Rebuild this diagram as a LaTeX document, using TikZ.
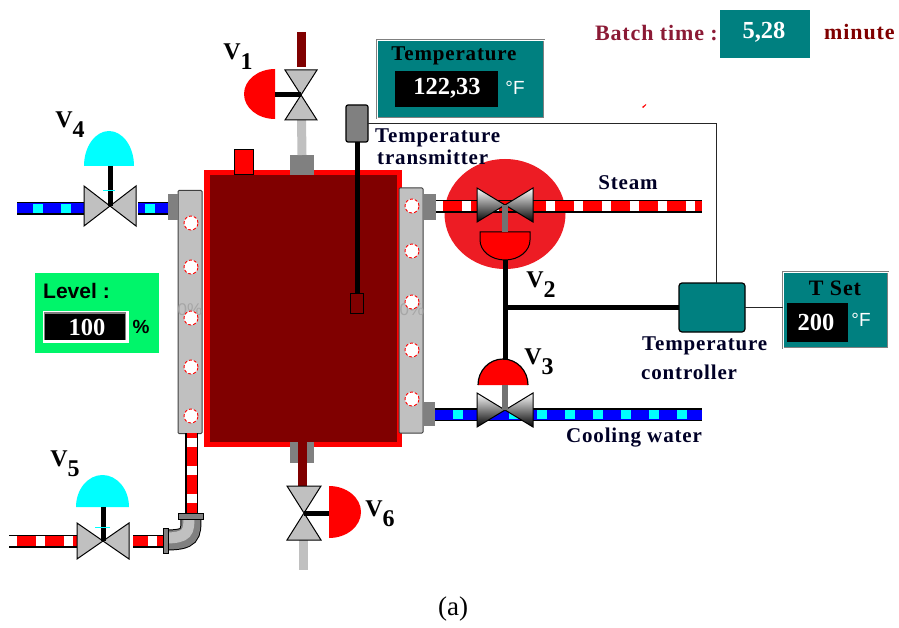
\documentclass[tikz,border=0pt]{standalone}
\usepackage{fontspec}
\setmainfont{Liberation Serif}
\setsansfont{Liberation Sans}
\usetikzlibrary{positioning,shapes.geometric}
\definecolor{tealbox}{HTML}{008080}
\definecolor{maroonbox}{HTML}{800000}
\definecolor{steel}{HTML}{C0C0C0}
\definecolor{nozzlegray}{HTML}{808080}
\definecolor{levelgreen}{HTML}{00F56A}
\definecolor{alarmred}{HTML}{ED1C24}
\definecolor{batchred}{HTML}{8B1A35}
\definecolor{aqua}{HTML}{00FFFF}
\definecolor{pureblue}{HTML}{0000FF}
\definecolor{purered}{HTML}{FF0000}
\tikzset{
block/.style={rectangle,inner sep=0,outer sep=0,minimum width=#1},
jacket/.style={block=24,minimum height=243,fill=steel,draw=black!75,line width=1,rounded corners=1},
nozzle/.style={fill=nozzlegray},
panel/.style={rectangle,inner sep=0,fill=tealbox,draw=nozzlegray,double=white,double distance=0.8,line width=1},
readout/.style={rectangle,inner sep=0,fill=black},
caption/.style={inner sep=0,font=\fontsize{21}{21}\selectfont\bfseries\addfontfeature{LetterSpace=4},text=black!85!blue},
bigcaption/.style={caption,font=\fontsize{22}{22}\selectfont\bfseries\addfontfeature{LetterSpace=4}},
valvetag/.style={inner sep=0,font=\fontsize{24}{24}\selectfont\bfseries,text=black},
value/.style={inner sep=0,font=\fontsize{24.5}{24.5}\selectfont\bfseries,text=white},
unit/.style={inner sep=0,font=\fontsize{19}{19}\selectfont\sffamily,text=white},
valvebody/.style={fill=steel,draw=black,line width=1},
shinybody/.style={top color=white,middle color=steel!55!white,bottom color=black,draw=black,line width=1},
stem/.style={line width=5,draw=black},
greystem/.style={line width=6,draw=black!55},
signal/.style={line width=1.6,draw=black!85},
hotpipe/.style={line width=10,draw=purered,preaction={draw=black,line width=13},
  postaction={draw=white,dash pattern=on 9 off 19,dash phase=#1}},
coldpipe/.style={line width=10,draw=pureblue,preaction={draw=black,line width=13},
  postaction={draw=aqua,line width=8.5,dash pattern=on 10 off 18,dash phase=#1}},
hole/.style={circle,inner sep=0,minimum size=14,fill=white,draw=purered,densely dashed,line width=0.9}
}
% bow-tie body lying on its side, and standing up
\newcommand{\bowtieflat}[4]{\path[#4] (#1) -- ++(-#2,-#3) -- ++(0,2*#3) -- cycle (#1) -- ++(#2,-#3) -- ++(0,2*#3) -- cycle;}
\newcommand{\bowtieup}[4]{\path[#4] (#1) -- ++(-#2,-#3) -- ++(2*#2,0) -- cycle (#1) -- ++(-#2,#3) -- ++(2*#2,0) -- cycle;}
\newcommand{\tagged}[1]{V\raisebox{-0.42em}{#1}}
\begin{document}
\begin{tikzpicture}[x=1pt,y=-1pt]
\useasboundingbox (0,0) rectangle (899,628);

% anchors of the valves and pipes
\coordinate (v1) at (301,95);
\coordinate (v2) at (505,205);
\coordinate (v3) at (505,410);
\coordinate (v4) at (110,206);
\coordinate (v5) at (103,541);
\coordinate (v6) at (304,513);
\coordinate (steamEnd) at (702,206.5);
\coordinate (coolEnd) at (702,414.5);
\coordinate (v4Start) at (17,208.5);
\coordinate (v5Start) at (9,541);
\coordinate (feedTop) at (301.5,32);
\coordinate (drainEnd) at (303.5,570);

% alarm disc
\node[ellipse,inner sep=0,minimum width=121,minimum height=110,fill=alarmred] (alarm) at (505,214) {};

% vessel and jackets
\node[block=192.5,minimum height=271.5,fill=maroonbox,draw=purered,line width=5.5] (vessel) at (303,308.5) {};
\node[block=19,minimum height=25,fill=purered,draw=black,line width=1] (vent) at (243.5,162.5) {};
\node[block=24,minimum height=20,nozzle] (topNozzle) at (302,165) {};
\node[jacket] (jacketL) at (190,312) {};
\node[jacket,minimum height=245] (jacketR) at (411,310.5) {};
\node[text=black!35,font=\fontsize{17}{17}\sffamily,inner sep=0] (pctL) at (190,310) {0\%};
\node[text=black!35,font=\fontsize{17}{17}\sffamily,inner sep=0] (pctR) at (412,310) {0\%};
\foreach \y in {223,267,318,367,416}
  \node[hole] (holeL\y) at (191,\y) {};
\foreach \y in {206,251,302,350,399}
  \node[hole] (holeR\y) at (412,\y) {};

% nozzles on the jackets
\node[block=10,minimum height=26,nozzle] (nozzleV4) at (173,207) {};
\node[block=12,minimum height=26,nozzle] (nozzleSteam) at (430,207) {};
\node[block=12,minimum height=24,nozzle] (nozzleCool) at (429,414) {};
\node[block=8,minimum height=21,nozzle] (drainL) at (293.5,452.5) {};
\node[block=8,minimum height=21,nozzle] (drainR) at (310,452.5) {};

% pipes
\draw[line width=9,draw=maroonbox] (feedTop) -- (301.5,67);
\draw[line width=9,draw=steel] (301.5,119) -- (topNozzle.north);
\draw[line width=9,draw=maroonbox] (302,442) -- (302,487);
\draw[line width=9,draw=steel] (303.5,540) -- (drainEnd);
\draw[hotpipe=2.5] (nozzleSteam.east |- steamEnd) -- (steamEnd);
\draw[coldpipe=10] (nozzleCool.east |- coolEnd) -- (coolEnd);
\draw[coldpipe=12] (v4Start) -- (84,208.5);
\draw[coldpipe=21] (138,208.5) -- (nozzleV4.west |- v4Start);
\draw[hotpipe=1.5] (v5Start) -- (77,541);
\draw[hotpipe=13.5] (133,541) -- (163,541);
\draw[hotpipe=23.5] (191.5,433) -- (191.5,513);

% elbow
\draw[line width=21,draw=black,line cap=butt] (165,540) .. controls (191,540) and (191,535) .. (191,517);
\draw[line width=19,draw=nozzlegray] (165,540) .. controls (191,540) and (191,535) .. (191,517);
\draw[line width=11,draw=steel] (165,538) .. controls (188,538) and (189,532) .. (189,517);
\node[block=5,minimum height=25,fill=nozzlegray,draw=black,line width=1] (elbowFlangeA) at (165.5,540.5) {};
\node[block=25,minimum height=6,fill=nozzlegray,draw=black,line width=1] (elbowFlangeB) at (190.5,516) {};

% valve bodies
\bowtieup{v1}{16}{25}{valvebody}
\bowtieflat{v4}{26}{20}{valvebody}
\bowtieflat{v5}{26}{18}{valvebody}
\bowtieup{v6}{17}{27}{valvebody}
\bowtieflat{v2}{28}{17}{shinybody}
\bowtieflat{v3}{28}{17}{shinybody}

% actuators
\coordinate (v1act) at (275,95);
\coordinate (v2act) at (505,232);
\coordinate (v3act) at (505,385);
\coordinate (v3top) at (505,360);
\coordinate (v4act) at (110,166);
\coordinate (v5act) at (103,507);
\coordinate (v6act) at (329,513);
\fill[purered] (275,119) arc[start angle=90,end angle=270,x radius=31,y radius=25] -- cycle;
\fill[purered] (329,538) arc[start angle=90,end angle=-90,x radius=32,y radius=26] -- cycle;
\fill[aqua] (84,166) arc[start angle=180,end angle=360,x radius=25,y radius=35] -- cycle;
\fill[aqua] (76,507) arc[start angle=180,end angle=360,x radius=26.5,y radius=32] -- cycle;
\path[fill=purered,draw=black,line width=1] (480,232) -- (530,232) -- (530,240) arc[start angle=0,end angle=180,x radius=25,y radius=20] -- cycle;
\path[fill=purered,draw=none] (478,385) arc[start angle=180,end angle=360,x radius=25,y radius=26] -- cycle;
\draw[line width=1.2,draw=black] (478,385) arc[start angle=180,end angle=360,x radius=25,y radius=26];
\draw[stem] (v1act) -- (v1);
\draw[stem] (v6act) -- (v6);
\draw[stem] (v4act) -- (v4);
\draw[stem] (v5act) -- (v5);
\draw[greystem] (v2) -- (v2act);
\draw[greystem] (v3act) -- (v3);
\fill[aqua] (103,190.5) rectangle (115,191.5);
\fill[aqua] (95,527) rectangle (110,528);

% transmitter
\node[block=22,minimum height=37,fill=nozzlegray,draw=black,line width=1.2,rounded corners=2] (transmitter) at (357,123.5) {};
\node[block=13,minimum height=20,fill=maroonbox,draw=black,line width=1] (probe) at (356.5,303) {};
\draw[stem] (transmitter.south) -- (transmitter.south |- probe.north);

% controller
\node[block=66,minimum height=49,fill=tealbox,draw=black,line width=1.2,rounded corners=3] (controller) at (712,307.5) {};
\node[panel,minimum width=105,minimum height=76] (tSet) at (835.5,310) {};
\draw[signal] (transmitter.east) -| ([xshift=4.5]controller.north);
\draw[stem] (505,260) -- (v3top);
\draw[stem] (controller.west) -- (controller.west -| v3top);
\draw[signal] (controller.east) -- (controller.east -| tSet.west);

% readouts
\node[readout,minimum width=61,minimum height=39] (tSetBox) at (817.5,322.5) {};
\node[bigcaption,text=black] (tSetText) at (835,288) {T Set};
\node[value] (tSetValue) at (816,322) {200};
\node[unit] (tSetUnit) at (861,320) {°F};

\node[panel,minimum width=167,minimum height=78] (tempPanel) at (460.5,79) {};
\node[readout,minimum width=103,minimum height=36] (tempBox) at (446.5,89) {};
\node[caption,text=black] (tempText) at (454,56) {Temperature};
\node[value] (tempValue) at (447,88) {122,33};
\node[unit] (tempUnit) at (515,88) {°F};

\node[rectangle,inner sep=0,minimum width=124,minimum height=80,fill=levelgreen] (levelPanel) at (97,313) {};
\node[inner sep=0,font=\fontsize{21}{21}\selectfont\sffamily\bfseries] (levelText) at (76.5,291) {Level :};
\node[rectangle,inner sep=0,minimum width=86,minimum height=32,fill=white] (levelFrame) at (85.5,327) {};
\node[readout,minimum width=82,minimum height=28,fill=nozzlegray] (levelShade) at (85,326) {};
\node[readout,minimum width=80,minimum height=26] (levelBox) at (85,326.5) {};
\node[value] (levelValue) at (87,327) {100};
\node[inner sep=0,font=\fontsize{19}{19}\selectfont\sffamily\bfseries] (levelUnit) at (141,327) {\%};

\node[rectangle,inner sep=0,minimum width=90,minimum height=48,fill=tealbox] (batchBox) at (765,34) {};
\node[value] (batchValue) at (764,32) {5,28};
\node[bigcaption,text=batchred,anchor=east] (batchText) at (718,33) {Batch time :};
\node[bigcaption,text=maroonbox,anchor=west] (batchUnit) at (824,32) {minute};
\fill[purered] (642,107) -- (646,104) -- (646,105) -- (643,108) -- cycle;

% labels
\node[caption,anchor=west] (transmitterText) at (375,138) {Temperature};
\node[caption,anchor=west] (transmitterText2) at (377,157) {transmitter};
\node[caption] (steamText) at (628,183) {Steam};
\node[caption,anchor=west] (controllerText) at (642,346) {Temperature};
\node[caption,anchor=west] (controllerText2) at (641,372) {controller};
\node[caption] (coolingText) at (634,438) {Cooling water};
\node[valvetag] (v1Text) at (238,57) {\tagged{1}};
\node[valvetag] (v2Text) at (541,285) {\tagged{2}};
\node[valvetag] (v3Text) at (539,362) {\tagged{3}};
\node[valvetag] (v4Text) at (70,125) {\tagged{4}};
\node[valvetag] (v5Text) at (65,464) {\tagged{5}};
\node[valvetag] (v6Text) at (380,514) {\tagged{6}};
\node[inner sep=0,font=\fontsize{27}{27}\selectfont] (partText) at (453,609) {(a)};
\end{tikzpicture}
\end{document}
